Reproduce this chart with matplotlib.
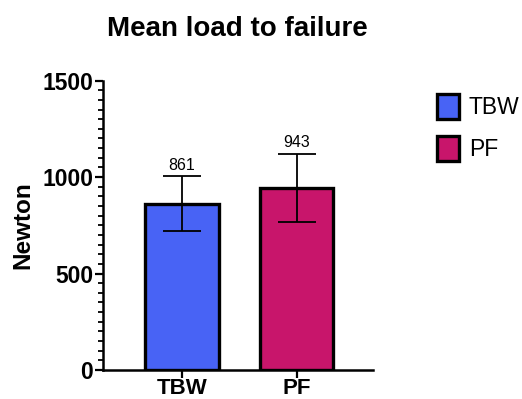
import numpy as np
import matplotlib
matplotlib.use('Agg')
import matplotlib.pyplot as plt
from matplotlib.patches import Patch
from matplotlib.ticker import MultipleLocator

plt.rcParams['font.family'] = ['Liberation Sans', 'DejaVu Sans']

groups = ['TBW', 'PF']
means = [861, 943]
sds = [142, 175]
colors = ['#4863F5', '#C8156B']

fig = plt.figure(figsize=(5.22, 3.99), dpi=100)
ax = fig.add_axes([0.1973, 0.0727, 0.5167, 0.7253])

x = np.arange(len(groups))
ax.bar(x, means, width=0.64, color=colors, edgecolor='black', linewidth=2.4, zorder=2)
ax.errorbar(x, means, yerr=sds, fmt='none', ecolor='black', elinewidth=1.3,
            capsize=14, capthick=1.3, zorder=3)
for xi, m, s in zip(x, means, sds):
    ax.text(xi, m + s + 20, str(m), ha='center', va='bottom', fontsize=11.5)

ax.set_xlim(-0.69, 1.665)
ax.set_ylim(0, 1500)
ax.set_xticks(x)
ax.set_xticklabels(groups, fontsize=16, fontweight='bold')
ax.set_yticks([0, 500, 1000, 1500])
ax.set_yticklabels(['0', '500', '1000', '1500'], fontsize=16.5, fontweight='bold')
ax.yaxis.set_minor_locator(MultipleLocator(50))
ax.tick_params(axis='y', which='major', length=6, width=1.6, pad=1)
ax.tick_params(axis='y', which='minor', length=3.5, width=1.3)
ax.tick_params(axis='x', length=6, width=1.6, pad=0)
ax.spines['top'].set_visible(False)
ax.spines['right'].set_visible(False)
ax.spines['left'].set_linewidth(1.8)
ax.spines['bottom'].set_linewidth(1.8)
ax.set_ylabel('Newton', fontsize=17.5, fontweight='bold', labelpad=6)
ax.set_title('Mean load to failure', fontsize=20, fontweight='bold', pad=32)

handles = [Patch(facecolor=c, edgecolor='black', linewidth=2.4, label=g)
           for g, c in zip(groups, colors)]
fig.legend(handles=handles, loc='upper left', bbox_to_anchor=(0.837, 0.765),
           frameon=False, fontsize=16.5, handlelength=0.95, handleheight=1.3,
           handletextpad=0.45, labelspacing=0.75, borderpad=0, borderaxespad=0)

fig.savefig('out.png', dpi=100)
